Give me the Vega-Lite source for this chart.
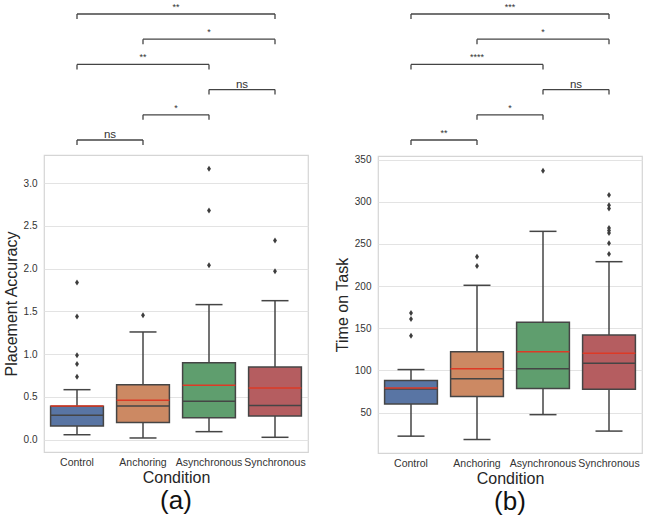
{
  "$schema": "https://vega.github.io/schema/vega-lite/v6.json",
  "padding": {"left": 2, "top": 0, "right": 0, "bottom": 0},
  "background": "white",
  "config": {
    "font": "Liberation Sans",
    "view": {"stroke": "#d5d5d5", "strokeWidth": 1.2},
    "axis": {"domain": false, "ticks": false, "labelFontSize": 10.5, "labelColor": "#333333", "titleFontSize": 16, "titleFontWeight": "normal", "titleColor": "#262626", "gridColor": "#e3e3e3", "gridWidth": 1},
    "axisX": {"grid": false, "labelAngle": 0, "labelPadding": 5, "titlePadding": 2},
    "axisY": {"labelPadding": 7, "titlePadding": 4, "labelFontSize": 10},
    "title": {"fontSize": 26, "fontWeight": "normal", "color": "#111111", "offset": 2}
  },
  "datasets": {
    "statsA": [
      {"cond": "Control", "low": 0.058, "q1": 0.16, "median": 0.285, "mean": 0.395, "q3": 0.39, "high": 0.585},
      {"cond": "Anchoring", "low": 0.02, "q1": 0.2, "median": 0.394, "mean": 0.46, "q3": 0.643, "high": 1.26},
      {"cond": "Asynchronous", "low": 0.094, "q1": 0.257, "median": 0.449, "mean": 0.636, "q3": 0.9, "high": 1.58},
      {"cond": "Synchronous", "low": 0.028, "q1": 0.277, "median": 0.4, "mean": 0.605, "q3": 0.85, "high": 1.626}
    ],
    "outA": [
      {"cond": "Control", "value": 0.737}, {"cond": "Control", "value": 0.885}, {"cond": "Control", "value": 0.987},
      {"cond": "Control", "value": 1.44}, {"cond": "Control", "value": 1.84},
      {"cond": "Anchoring", "value": 1.455},
      {"cond": "Asynchronous", "value": 2.04}, {"cond": "Asynchronous", "value": 2.68}, {"cond": "Asynchronous", "value": 3.17},
      {"cond": "Synchronous", "value": 1.97}, {"cond": "Synchronous", "value": 2.33}
    ],
    "statsB": [
      {"cond": "Control", "low": 22, "q1": 60, "median": 78, "mean": 79, "q3": 88, "high": 101},
      {"cond": "Anchoring", "low": 18, "q1": 69, "median": 90, "mean": 102, "q3": 122, "high": 201},
      {"cond": "Asynchronous", "low": 47.5, "q1": 78.5, "median": 102, "mean": 122, "q3": 157, "high": 265},
      {"cond": "Synchronous", "low": 28, "q1": 77.7, "median": 108.5, "mean": 120.4, "q3": 142, "high": 229}
    ],
    "outB": [
      {"cond": "Control", "value": 141}, {"cond": "Control", "value": 161}, {"cond": "Control", "value": 168},
      {"cond": "Anchoring", "value": 224}, {"cond": "Anchoring", "value": 235},
      {"cond": "Asynchronous", "value": 337},
      {"cond": "Synchronous", "value": 238}, {"cond": "Synchronous", "value": 251}, {"cond": "Synchronous", "value": 263},
      {"cond": "Synchronous", "value": 266}, {"cond": "Synchronous", "value": 269}, {"cond": "Synchronous", "value": 292},
      {"cond": "Synchronous", "value": 296}, {"cond": "Synchronous", "value": 308}
    ],
    "bracketsA": [
      {"start": 0, "end": 3, "level": 6, "label": "**"},
      {"start": 1, "end": 3, "level": 5, "label": "*"},
      {"start": 0, "end": 2, "level": 4, "label": "**"},
      {"start": 2, "end": 3, "level": 3, "label": "ns"},
      {"start": 1, "end": 2, "level": 2, "label": "*"},
      {"start": 0, "end": 1, "level": 1, "label": "ns"}
    ],
    "bracketsB": [
      {"start": 0, "end": 3, "level": 6, "label": "***"},
      {"start": 1, "end": 3, "level": 5, "label": "*"},
      {"start": 0, "end": 2, "level": 4, "label": "****"},
      {"start": 2, "end": 3, "level": 3, "label": "ns"},
      {"start": 1, "end": 2, "level": 2, "label": "*"},
      {"start": 0, "end": 1, "level": 1, "label": "**"}
    ]
  },
  "spacing": 24,
  "hconcat": [
    {
      "spacing": 0,
      "vconcat": [
        {
          "width": 264, "height": 154,
          "view": {"stroke": null},
          "data": {"name": "bracketsA"},
          "layer": [
            {"mark": {"type": "rule", "color": "#444444", "strokeWidth": 1.3},
             "encoding": {"x": {"field": "start", "type": "quantitative", "scale": {"domain": [-0.5, 3.5], "nice": false, "zero": false}, "axis": null},
                          "x2": {"field": "end"},
                          "y": {"field": "level", "type": "quantitative", "scale": {"domain": [0.444, 6.556], "nice": false, "zero": false}, "axis": null}}},
            {"mark": {"type": "rule", "color": "#444444", "strokeWidth": 1.3, "y2Offset": 5},
             "encoding": {"x": {"field": "start", "type": "quantitative"}, "y": {"field": "level", "type": "quantitative"}, "y2": {"field": "level"}}},
            {"mark": {"type": "rule", "color": "#444444", "strokeWidth": 1.3, "y2Offset": 5},
             "encoding": {"x": {"field": "end", "type": "quantitative"}, "y": {"field": "level", "type": "quantitative"}, "y2": {"field": "level"}}},
            {"transform": [{"filter": "datum.label !== 'ns'"}, {"fold": ["start", "end"], "as": ["side", "pos"]}],
             "mark": {"type": "text", "baseline": "bottom", "dy": -2, "fontSize": 9, "color": "#333333"},
             "encoding": {"x": {"field": "pos", "aggregate": "mean", "type": "quantitative"}, "y": {"field": "level", "type": "quantitative"}, "text": {"field": "label"}}},
            {"transform": [{"filter": "datum.label === 'ns'"}, {"fold": ["start", "end"], "as": ["side", "pos"]}],
             "mark": {"type": "text", "baseline": "bottom", "dy": 0, "fontSize": 11.5, "color": "#333333"},
             "encoding": {"x": {"field": "pos", "aggregate": "mean", "type": "quantitative"}, "y": {"field": "level", "type": "quantitative"}, "text": {"field": "label"}}}
          ]
        },
        {
          "width": 264, "height": 297,
          "title": {"text": "(a)", "orient": "bottom"},
          "encoding": {"x": {"field": "cond", "type": "nominal", "sort": ["Control", "Anchoring", "Asynchronous", "Synchronous"], "scale": {"paddingInner": 0, "paddingOuter": 0}, "title": "Condition"}},
          "layer": [
            {"data": {"name": "statsA"}, "mark": {"type": "rule", "color": "#454545", "strokeWidth": 1.5},
             "encoding": {"y": {"field": "low", "type": "quantitative", "scale": {"domain": [-0.144, 3.33], "nice": false, "zero": false}, "axis": {"values": [0, 0.5, 1, 1.5, 2, 2.5, 3], "format": ".1f"}, "title": "Placement Accuracy"}, "y2": {"field": "high"}}},
            {"data": {"name": "statsA"}, "mark": {"type": "bar", "width": {"band": 0.8}, "stroke": "#454545", "strokeWidth": 1.5},
             "encoding": {"y": {"field": "q1", "type": "quantitative", "scale": {"domain": [-0.144, 3.33], "nice": false, "zero": false}, "title": "Placement Accuracy"}, "y2": {"field": "q3"},
                          "fill": {"field": "cond", "type": "nominal", "scale": {"domain": ["Control", "Anchoring", "Asynchronous", "Synchronous"], "range": ["#5975a4", "#cc8963", "#5f9e6e", "#b55d60"]}, "legend": null}}},
            {"data": {"name": "statsA"}, "mark": {"type": "tick", "size": 52.8, "thickness": 1.5, "color": "#454545", "opacity": 1},
             "encoding": {"y": {"field": "median", "type": "quantitative", "scale": {"domain": [-0.144, 3.33], "nice": false, "zero": false}, "title": "Placement Accuracy"}}},
            {"data": {"name": "statsA"}, "mark": {"type": "tick", "size": 52.8, "thickness": 1.5, "color": "#dd3a26", "opacity": 1},
             "encoding": {"y": {"field": "mean", "type": "quantitative", "scale": {"domain": [-0.144, 3.33], "nice": false, "zero": false}, "title": "Placement Accuracy"}}},
            {"data": {"name": "statsA"}, "mark": {"type": "tick", "size": 27, "thickness": 1.5, "color": "#454545", "opacity": 1},
             "encoding": {"y": {"field": "low", "type": "quantitative", "scale": {"domain": [-0.144, 3.33], "nice": false, "zero": false}, "title": "Placement Accuracy"}}},
            {"data": {"name": "statsA"}, "mark": {"type": "tick", "size": 27, "thickness": 1.5, "color": "#454545", "opacity": 1},
             "encoding": {"y": {"field": "high", "type": "quantitative", "scale": {"domain": [-0.144, 3.33], "nice": false, "zero": false}, "title": "Placement Accuracy"}}},
            {"data": {"name": "outA"}, "mark": {"type": "point", "shape": "M0,-1L0.65,0L0,1L-0.65,0Z", "filled": true, "size": 36, "color": "#3d3d3d", "opacity": 1},
             "encoding": {"y": {"field": "value", "type": "quantitative", "scale": {"domain": [-0.144, 3.33], "nice": false, "zero": false}, "title": "Placement Accuracy"}}}
          ]
        }
      ]
    },
    {
      "spacing": 0,
      "vconcat": [
        {
          "width": 264, "height": 154,
          "view": {"stroke": null},
          "data": {"name": "bracketsB"},
          "layer": [
            {"mark": {"type": "rule", "color": "#444444", "strokeWidth": 1.3},
             "encoding": {"x": {"field": "start", "type": "quantitative", "scale": {"domain": [-0.5, 3.5], "nice": false, "zero": false}, "axis": null},
                          "x2": {"field": "end"},
                          "y": {"field": "level", "type": "quantitative", "scale": {"domain": [0.444, 6.556], "nice": false, "zero": false}, "axis": null}}},
            {"mark": {"type": "rule", "color": "#444444", "strokeWidth": 1.3, "y2Offset": 5},
             "encoding": {"x": {"field": "start", "type": "quantitative"}, "y": {"field": "level", "type": "quantitative"}, "y2": {"field": "level"}}},
            {"mark": {"type": "rule", "color": "#444444", "strokeWidth": 1.3, "y2Offset": 5},
             "encoding": {"x": {"field": "end", "type": "quantitative"}, "y": {"field": "level", "type": "quantitative"}, "y2": {"field": "level"}}},
            {"transform": [{"filter": "datum.label !== 'ns'"}, {"fold": ["start", "end"], "as": ["side", "pos"]}],
             "mark": {"type": "text", "baseline": "bottom", "dy": -2, "fontSize": 9, "color": "#333333"},
             "encoding": {"x": {"field": "pos", "aggregate": "mean", "type": "quantitative"}, "y": {"field": "level", "type": "quantitative"}, "text": {"field": "label"}}},
            {"transform": [{"filter": "datum.label === 'ns'"}, {"fold": ["start", "end"], "as": ["side", "pos"]}],
             "mark": {"type": "text", "baseline": "bottom", "dy": 0, "fontSize": 11.5, "color": "#333333"},
             "encoding": {"x": {"field": "pos", "aggregate": "mean", "type": "quantitative"}, "y": {"field": "level", "type": "quantitative"}, "text": {"field": "label"}}}
          ]
        },
        {
          "width": 264, "height": 297,
          "title": {"text": "(b)", "orient": "bottom"},
          "encoding": {"x": {"field": "cond", "type": "nominal", "sort": ["Control", "Anchoring", "Asynchronous", "Synchronous"], "scale": {"paddingInner": 0, "paddingOuter": 0}, "title": "Condition"}},
          "layer": [
            {"data": {"name": "statsB"}, "mark": {"type": "rule", "color": "#454545", "strokeWidth": 1.5},
             "encoding": {"y": {"field": "low", "type": "quantitative", "scale": {"domain": [2, 354.4], "nice": false, "zero": false}, "axis": {"values": [50, 100, 150, 200, 250, 300, 350], "format": "d"}, "title": "Time on Task"}, "y2": {"field": "high"}}},
            {"data": {"name": "statsB"}, "mark": {"type": "bar", "width": {"band": 0.8}, "stroke": "#454545", "strokeWidth": 1.5},
             "encoding": {"y": {"field": "q1", "type": "quantitative", "scale": {"domain": [2, 354.4], "nice": false, "zero": false}, "title": "Time on Task"}, "y2": {"field": "q3"},
                          "fill": {"field": "cond", "type": "nominal", "scale": {"domain": ["Control", "Anchoring", "Asynchronous", "Synchronous"], "range": ["#5975a4", "#cc8963", "#5f9e6e", "#b55d60"]}, "legend": null}}},
            {"data": {"name": "statsB"}, "mark": {"type": "tick", "size": 52.8, "thickness": 1.5, "color": "#454545", "opacity": 1},
             "encoding": {"y": {"field": "median", "type": "quantitative", "scale": {"domain": [2, 354.4], "nice": false, "zero": false}, "title": "Time on Task"}}},
            {"data": {"name": "statsB"}, "mark": {"type": "tick", "size": 52.8, "thickness": 1.5, "color": "#dd3a26", "opacity": 1},
             "encoding": {"y": {"field": "mean", "type": "quantitative", "scale": {"domain": [2, 354.4], "nice": false, "zero": false}, "title": "Time on Task"}}},
            {"data": {"name": "statsB"}, "mark": {"type": "tick", "size": 27, "thickness": 1.5, "color": "#454545", "opacity": 1},
             "encoding": {"y": {"field": "low", "type": "quantitative", "scale": {"domain": [2, 354.4], "nice": false, "zero": false}, "title": "Time on Task"}}},
            {"data": {"name": "statsB"}, "mark": {"type": "tick", "size": 27, "thickness": 1.5, "color": "#454545", "opacity": 1},
             "encoding": {"y": {"field": "high", "type": "quantitative", "scale": {"domain": [2, 354.4], "nice": false, "zero": false}, "title": "Time on Task"}}},
            {"data": {"name": "outB"}, "mark": {"type": "point", "shape": "M0,-1L0.65,0L0,1L-0.65,0Z", "filled": true, "size": 36, "color": "#3d3d3d", "opacity": 1},
             "encoding": {"y": {"field": "value", "type": "quantitative", "scale": {"domain": [2, 354.4], "nice": false, "zero": false}, "title": "Time on Task"}}}
          ]
        }
      ]
    }
  ]
}
